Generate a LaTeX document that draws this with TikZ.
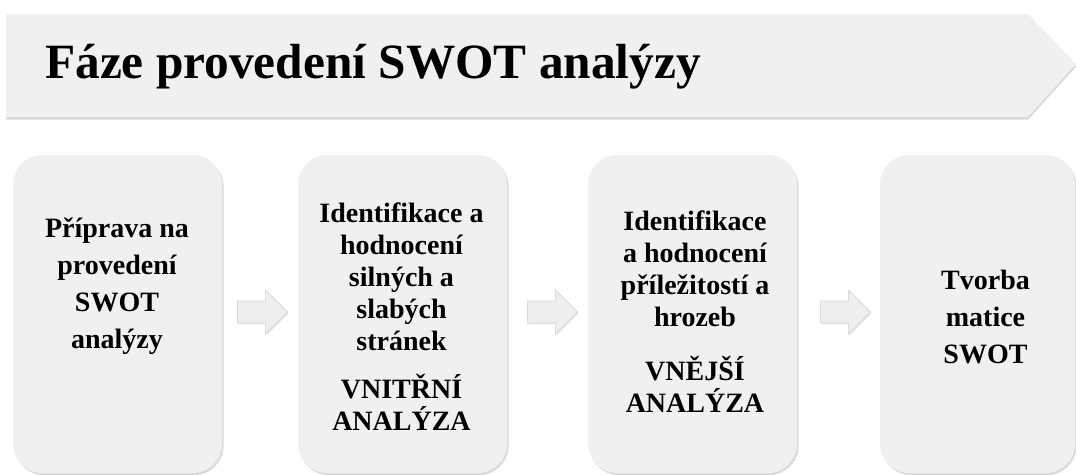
\documentclass[tikz,border=0pt]{standalone}
\usepackage{fontspec}
\setmainfont{Liberation Serif}
\usetikzlibrary{shapes.arrows,shadows,positioning}

\definecolor{panelgray}{HTML}{F0F0F0}
\definecolor{arrowgray}{HTML}{EEEEEE}

\tikzset{
  phasebox/.style={fill=panelgray, rounded corners=22pt, minimum width=156.75pt, minimum height=238.5pt,
    drop shadow={opacity=.28, shadow xshift=1.2pt, shadow yshift=-1.6pt}},
  phasetext/.style={align=center, font=\fontsize{21}{27.75}\selectfont\bfseries},
  tighttext/.style={phasetext, font=\fontsize{21}{24}\selectfont\bfseries},
  nextarrow/.style={single arrow, fill=arrowgray, draw=black!14, line width=.6pt,
    inner xsep=0pt, inner ysep=7.9pt, single arrow head extend=8.25pt, minimum height=37.5pt,
    drop shadow={opacity=.2, shadow xshift=.8pt, shadow yshift=-1pt}}
}

\begin{document}
\begin{tikzpicture}[x=0.75pt, y=-0.75pt]
  \fill[white] (0,0) rectangle (1076,475);
  \useasboundingbox (0,0) rectangle (1076,475);
  % heading banner
  \fill[panelgray, drop shadow={opacity=.3, shadow xshift=0pt, shadow yshift=-2pt}]
    (6,14) -- (1028,14) -- (1076,64) -- (1028,117) -- (6,117) -- cycle;
  \node[anchor=base west, inner sep=0pt, font=\fontsize{37}{44}\selectfont\bfseries] (title) at (45,78)
    {Fáze provedení SWOT analýzy};
  % phase boxes
  \node[phasebox] (prep)  at (117.5,314) {};
  \node[phasebox] (inner) at (402.5,314) {};
  \node[phasebox] (outer) at (692.5,314) {};
  \node[phasebox, minimum width=146.25pt] (matrix) at (977.5,314) {};
  % arrows between the phases
  \foreach \x/\n in {257/ab, 547/bc, 840/cd} {
    \node[nextarrow] (\n) at (\x,312) {};
  }
  % box texts
  \node[phasetext] (preptext) at (117,286) {Příprava na\\provedení\\SWOT\\analýzy};
  \node[tighttext] (innertext) at (401.5,316.5) {Identifikace a\\hodnocení\\silných a\\slabých\\stránek\\[12pt]VNITŘNÍ\\ANALÝZA};
  \node[tighttext] (outertext) at (695,311.5) {Identifikace\\a hodnocení\\příležitostí a\\hrozeb\\[17pt]VNĚJŠÍ\\ANALÝZA};
  \node[phasetext] (matrixtext) at (985.5,317) {Tvorba\\matice\\SWOT};
\end{tikzpicture}
\end{document}
